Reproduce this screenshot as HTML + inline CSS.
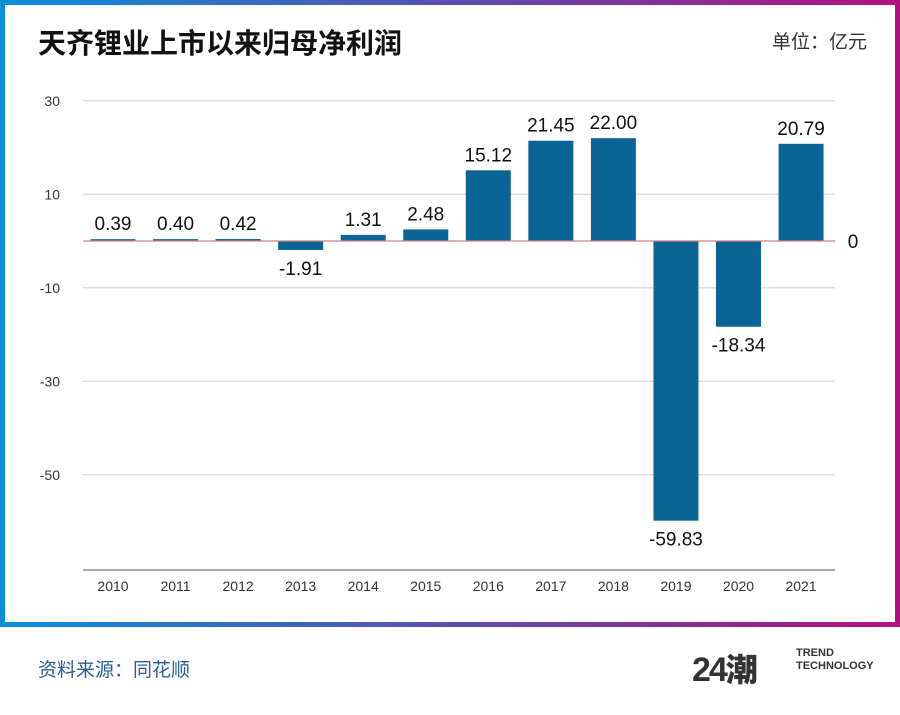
<!DOCTYPE html>
<html><head><meta charset="utf-8"><style>
body{margin:0;width:900px;height:715px;background:#fff;font-family:"Liberation Sans","Noto Sans CJK SC",sans-serif;overflow:hidden;position:relative}
#frame{position:absolute;left:0;top:0;width:900px;height:627px;background:linear-gradient(90deg,#0a90da,#5a4fb0 50%,#b50f80)}
#inner{position:absolute;left:5px;top:5px;width:890px;height:617px;background:#fff}
</style></head><body>
<div id="frame"><div id="inner"></div></div>
<div style="position:absolute;left:38px;top:22px;font-size:28px;font-weight:bold;color:#111;font-family:'Noto Sans CJK SC',sans-serif;line-height:40px">天齐锂业上市以来归母净利润</div>
<div style="position:absolute;left:772px;top:27px;font-size:19px;color:#333;font-family:'Noto Sans CJK SC',sans-serif">单位：亿元</div>
<svg id="chart" width="900" height="627" style="position:absolute;left:0;top:0"></svg>
<div style="position:absolute;left:38px;top:655px;font-size:19px;color:#2a5d9a;font-family:'Noto Sans CJK SC',sans-serif">资料来源：同花顺</div>
<div style="position:absolute;left:692px;top:645px;width:100px;height:45px">
<span style="font-size:34px;font-weight:900;color:#333;letter-spacing:-2px;font-family:'Liberation Sans',sans-serif">24</span><span style="font-size:32px;font-weight:900;color:#333;font-family:'Noto Sans CJK SC',sans-serif">潮</span></div>
<div style="position:absolute;left:796px;top:647px;font-size:11px;font-weight:bold;color:#333;line-height:13px">TREND<br>TECHNOLOGY</div>
<script>
const years=["2010","2011","2012","2013","2014","2015","2016","2017","2018","2019","2020","2021"];
const profits=[0.39,0.40,0.42,-1.91,1.31,2.48,15.12,21.45,22.00,-59.83,-18.34,20.79];
const yTicks=[30,10,-10,-30,-50];
const svg=document.getElementById('chart');
const NS='http://www.w3.org/2000/svg';
const y0=241,k=4.675,x0=113,dx=62.55,bw=45;
const Y=v=>y0-v*k, X=i=>x0+i*dx;
function mk(t,a,txt){const e=document.createElementNS(NS,t);for(const q in a)e.setAttribute(q,a[q]);if(txt!==undefined)e.textContent=txt;svg.appendChild(e);return e;}
yTicks.forEach(v=>{
 const l=mk('line',{x1:83,x2:835,y1:Y(v),y2:Y(v),stroke:'#d8d8d8','stroke-width':1.2});
 
 
 const t=mk('text',{x:60,y:Y(v)+5,'text-anchor':'end','font-size':14,fill:'#333','font-family':'Liberation Sans'},String(v));
 
 
});
const ax=mk('line',{x1:83,x2:835,y1:570,y2:570,stroke:'#555','stroke-width':1});


profits.forEach((v,i)=>{
 const top=Math.min(Y(v),y0),h=Math.abs(Y(v)-y0);
 const r=mk('rect',{x:X(i)-bw/2,y:top,width:bw,height:Math.max(h,1.5),fill:'#0a6496'});
 
 
 const ly=v>=0?Y(v)-9:Y(v)+25;
 const t=mk('text',{x:X(i),y:ly,'text-anchor':'middle','font-size':19,fill:'#111','font-family':'Liberation Sans'},v.toFixed(2));
 
 
 const xl=mk('text',{x:X(i),y:591,'text-anchor':'middle','font-size':14,fill:'#333','font-family':'Liberation Sans'},years[i]);
 
 
});
const z=mk('line',{x1:83,x2:835,y1:y0,y2:y0,stroke:'#d08080','stroke-width':1.2});


const zl=mk('text',{x:853,y:y0+7,'text-anchor':'middle','font-size':19,fill:'#111','font-family':'Liberation Sans'},'0');


</script>
</body></html>
